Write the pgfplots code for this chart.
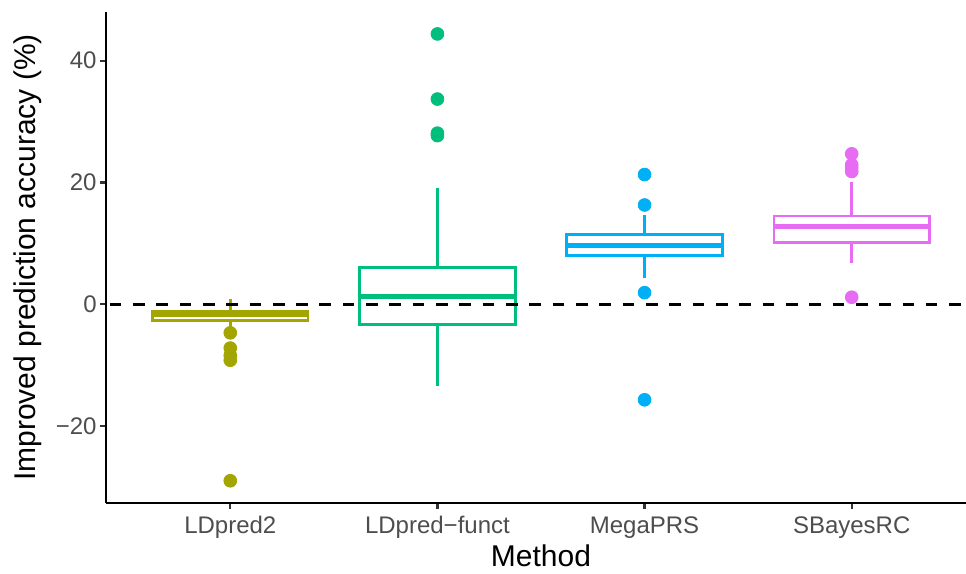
\documentclass[border=0pt]{standalone}
\usepackage{fontspec}
\setmainfont{Liberation Sans}
\usepackage{pgfplots}
\pgfplotsset{compat=1.18}
\usepgfplotslibrary{statistics}

\definecolor{cLD}{HTML}{A3A500}
\definecolor{cLF}{HTML}{00BF7D}
\definecolor{cMP}{HTML}{00B0F6}
\definecolor{cSB}{HTML}{E76BF3}
\definecolor{tickgrey}{HTML}{4D4D4D}
\definecolor{tickdark}{HTML}{333333}

\pgfplotsset{
  gbox/.style={
    line width=1.35pt,
    boxplot/draw direction=y,
    boxplot/box extend=0.75,
    boxplot/whisker extend=0,
    boxplot/every box/.style={line width=1.45pt, fill=white},
    boxplot/every whisker/.style={line width=1.35pt},
    boxplot/every median/.style={line width=2.6pt},
  },
}

\begin{document}
\begin{tikzpicture}
\useasboundingbox (-53pt,-35.5pt) rectangle (430pt,251.5pt);
\begin{axis}[
  at={(0,0)}, anchor=south west,
  scale only axis, width=435pt, height=245.5pt,
  xmin=-0.6, xmax=3.6, ymin=-32.65, ymax=48.0,
  axis lines*=left,
  axis line style={line width=1.3pt, black},
  xtick={0,1,2,3},
  xticklabels={LDpred2, LDpred−funct, MegaPRS, SBayesRC},
  ytick={-20,0,20,40},
  yticklabels={−20, 0, 20, 40},
  tick align=outside, major tick length=3pt,
  tick style={line width=1.1pt, tickdark},
  ticklabel style={font=\fontsize{12}{14}\selectfont, text=tickgrey},
  yticklabel style={inner sep=0pt, xshift=-1.5pt},
  xticklabel style={inner sep=0pt, yshift=-3.5pt},
  every axis x label/.style={at={(axis description cs:0.5,0)}, anchor=base, yshift=-31.9pt},
  every axis y label/.style={at={(axis description cs:-0.0805,0.5)}, rotate=90, anchor=base},
  label style={font=\fontsize{15}{18}\selectfont},
  xlabel={Method},
  ylabel={Improved prediction accuracy (\%)},
]
% LDpred2
\addplot[cLD, gbox, boxplot prepared={draw position=0,
  lower whisker=-3.9, lower quartile=-2.65, median=-1.75,
  upper quartile=-1.15, upper whisker=0.8}] coordinates {};
\addplot[cLD, only marks, mark=*, mark size=3.2pt, forget plot]
  coordinates {(0,-4.7) (0,-7.2) (0,-8.4) (0,-9.2) (0,-29.0)};
% LDpred-funct
\addplot[cLF, gbox, boxplot prepared={draw position=1,
  lower whisker=-13.4, lower quartile=-3.4, median=1.25,
  upper quartile=6.1, upper whisker=19.1}] coordinates {};
\addplot[cLF, only marks, mark=*, mark size=3.2pt, forget plot]
  coordinates {(1,44.4) (1,33.7) (1,28.1) (1,27.7)};
% MegaPRS
\addplot[cMP, gbox, boxplot prepared={draw position=2,
  lower whisker=4.3, lower quartile=8.0, median=9.6,
  upper quartile=11.4, upper whisker=14.7}] coordinates {};
\addplot[cMP, only marks, mark=*, mark size=3.2pt, forget plot]
  coordinates {(2,21.3) (2,16.3) (2,1.9) (2,-15.7)};
% SBayesRC
\addplot[cSB, gbox, boxplot prepared={draw position=3,
  lower whisker=6.8, lower quartile=10.1, median=12.75,
  upper quartile=14.5, upper whisker=20.1}] coordinates {};
\addplot[cSB, only marks, mark=*, mark size=3.2pt, forget plot]
  coordinates {(3,24.7) (3,22.9) (3,22.4) (3,21.8) (3,1.15)};
% reference line at zero
\addplot[black, line width=1.65pt, dash pattern=on 5.83pt off 5.83pt, dash phase=9.85pt, forget plot]
  coordinates {(-0.6,0) (3.6,0)};
\end{axis}
\end{tikzpicture}
\end{document}
